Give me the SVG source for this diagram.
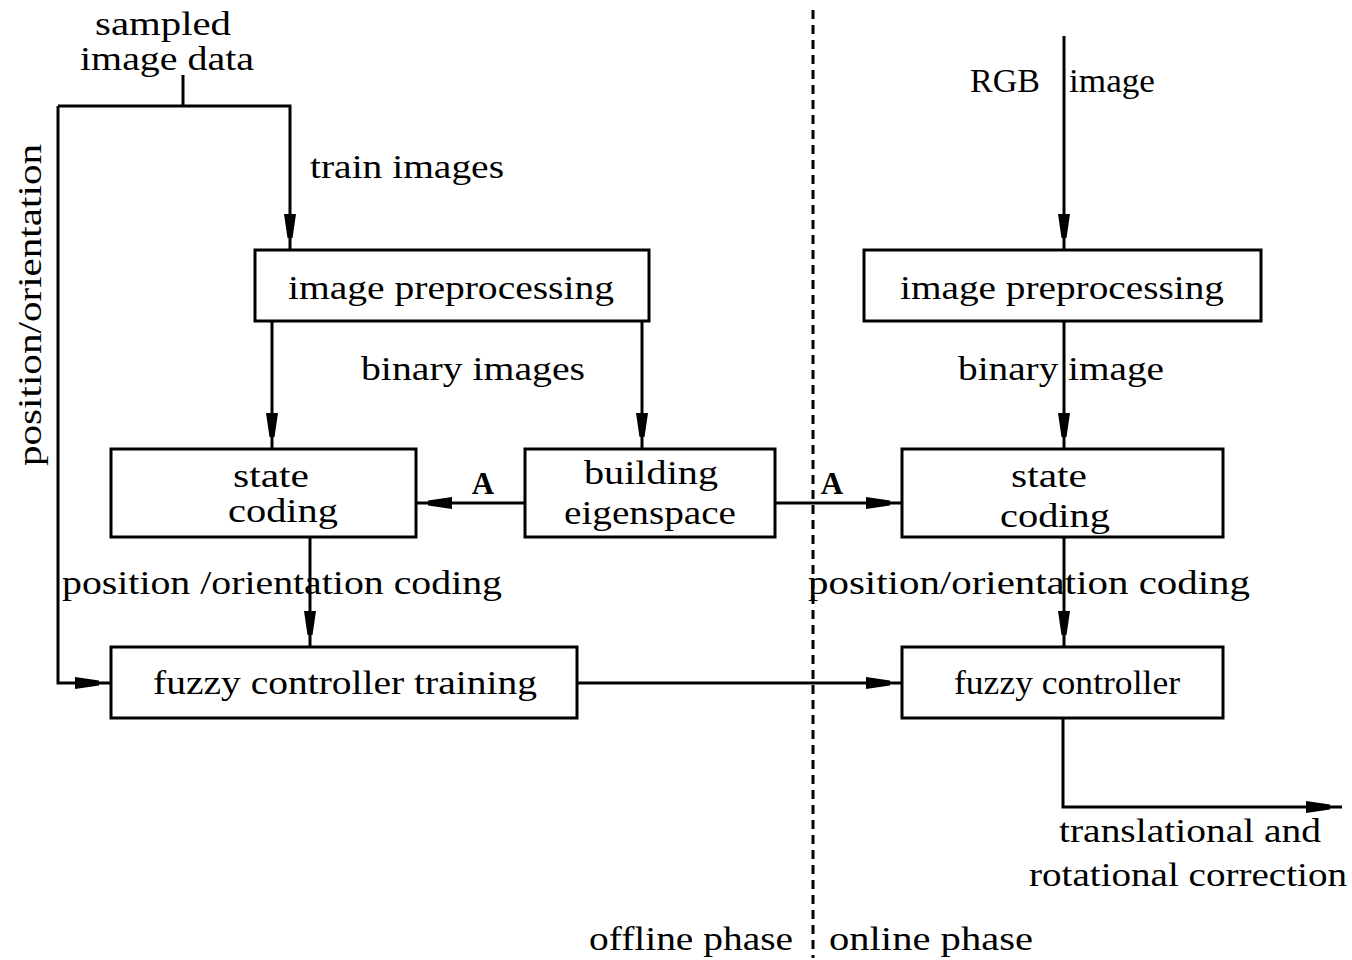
<svg xmlns="http://www.w3.org/2000/svg" width="1352" height="960" viewBox="0 0 1352 960">
<style>
.box{fill:#fff;stroke:#000;stroke-width:3}
.ln{fill:none;stroke:#000;stroke-width:3}
.t{font-family:"Liberation Serif","DejaVu Serif",serif;font-size:33px;fill:#000;text-anchor:middle}
.b{font-family:"Liberation Serif",serif;font-size:31px;font-weight:bold;fill:#000;text-anchor:middle}
</style>
<defs>
<marker id="ah" markerUnits="userSpaceOnUse" markerWidth="40" markerHeight="14" refX="36" refY="0" viewBox="0 -7 40 14" orient="auto" overflow="visible">
<path d="M0,-6 L24,-2.5 L24,2.5 L0,6 z" fill="#000"/>
</marker>
</defs>
<rect width="1352" height="960" fill="#fff"/>
<g id="connectors">
<line x1="813" y1="10" x2="813" y2="958" stroke="#000" stroke-width="3" stroke-dasharray="9,6"/>
<path class="ln" d="M183,75 V106"/>
<path class="ln" d="M58,106 H290 V250" marker-end="url(#ah)"/>
<path class="ln" d="M58,106 V683 H111" marker-end="url(#ah)"/>
<path class="ln" d="M272,321 V449" marker-end="url(#ah)"/>
<path class="ln" d="M642,321 V449" marker-end="url(#ah)"/>
<path class="ln" d="M525,503 H416" marker-end="url(#ah)"/>
<path class="ln" d="M775,503 H902" marker-end="url(#ah)"/>
<path class="ln" d="M310,537 V647" marker-end="url(#ah)"/>
<path class="ln" d="M577,683 H902" marker-end="url(#ah)"/>
<path class="ln" d="M1064,36 V250" marker-end="url(#ah)"/>
<path class="ln" d="M1064,321 V449" marker-end="url(#ah)"/>
<path class="ln" d="M1064,537 V647" marker-end="url(#ah)"/>
<path class="ln" d="M1063,718 V807 H1342" marker-end="url(#ah)"/>
<text class="b" x="483" y="494">A</text>
<text class="b" x="832" y="494">A</text>
</g>
<g id="labels">
<text class="t" x="163" y="35" textLength="136" lengthAdjust="spacingAndGlyphs">sampled</text>
<text class="t" x="167" y="70" textLength="174" lengthAdjust="spacingAndGlyphs">image data</text>
<text class="t" x="407" y="178" textLength="194" lengthAdjust="spacingAndGlyphs">train images</text>
<text class="t" x="473" y="380" textLength="224" lengthAdjust="spacingAndGlyphs">binary images</text>
<text class="t" x="282" y="594" textLength="440" lengthAdjust="spacingAndGlyphs">position /orientation coding</text>
<text class="t" transform="translate(41,305) rotate(-90)" textLength="322" lengthAdjust="spacingAndGlyphs">position/orientation</text>
<text class="t" x="1005" y="92" textLength="70" lengthAdjust="spacingAndGlyphs">RGB</text>
<text class="t" x="1112" y="92" textLength="86" lengthAdjust="spacingAndGlyphs">image</text>
<text class="t" x="1061" y="380" textLength="206" lengthAdjust="spacingAndGlyphs">binary image</text>
<text class="t" x="1029" y="594" textLength="442" lengthAdjust="spacingAndGlyphs">position/orientation coding</text>
<text class="t" x="1190" y="842" textLength="262" lengthAdjust="spacingAndGlyphs">translational and</text>
<text class="t" x="1188" y="886" textLength="318" lengthAdjust="spacingAndGlyphs">rotational correction</text>
<text class="t" x="691" y="950" textLength="204" lengthAdjust="spacingAndGlyphs">offline phase</text>
<text class="t" x="931" y="950" textLength="204" lengthAdjust="spacingAndGlyphs">online phase</text>
</g>
<g id="node-preproc-offline">
<rect class="box" x="255" y="250" width="394" height="71"/>
<text class="t" x="451" y="299" textLength="326" lengthAdjust="spacingAndGlyphs">image preprocessing</text>
</g>
<g id="node-state-offline">
<rect class="box" x="111" y="449" width="305" height="88"/>
<text class="t" x="271" y="487" textLength="76" lengthAdjust="spacingAndGlyphs">state</text>
<text class="t" x="283" y="522" textLength="110" lengthAdjust="spacingAndGlyphs">coding</text>
</g>
<g id="node-eigenspace">
<rect class="box" x="525" y="449" width="250" height="88"/>
<text class="t" x="651" y="484" textLength="134" lengthAdjust="spacingAndGlyphs">building</text>
<text class="t" x="650" y="524" textLength="172" lengthAdjust="spacingAndGlyphs">eigenspace</text>
</g>
<g id="node-fuzzy-training">
<rect class="box" x="111" y="647" width="466" height="71"/>
<text class="t" x="345" y="694" textLength="384" lengthAdjust="spacingAndGlyphs">fuzzy controller training</text>
</g>
<g id="node-preproc-online">
<rect class="box" x="864" y="250" width="397" height="71"/>
<text class="t" x="1062" y="299" textLength="324" lengthAdjust="spacingAndGlyphs">image preprocessing</text>
</g>
<g id="node-state-online">
<rect class="box" x="902" y="449" width="321" height="88"/>
<text class="t" x="1049" y="487" textLength="76" lengthAdjust="spacingAndGlyphs">state</text>
<text class="t" x="1055" y="527" textLength="110" lengthAdjust="spacingAndGlyphs">coding</text>
</g>
<g id="node-fuzzy-controller">
<rect class="box" x="902" y="647" width="321" height="71"/>
<text class="t" x="1067" y="694" textLength="226" lengthAdjust="spacingAndGlyphs">fuzzy controller</text>
</g>
</svg>
